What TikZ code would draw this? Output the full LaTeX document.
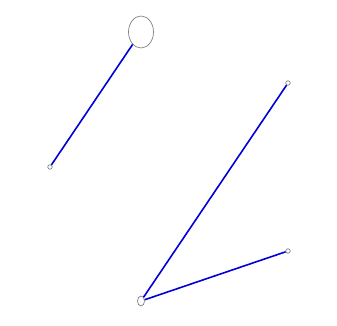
\documentclass[tikz,border=0pt]{standalone}
\usetikzlibrary{shapes.geometric}
\begin{document}
\begin{tikzpicture}[x=1pt,y=-1pt,
  vtx/.style={draw=gray,fill=white,ellipse,inner sep=0pt,line width=0.7pt},
  link/.style={draw=blue!85!black,line width=1.6pt}]
\useasboundingbox (0,0) rectangle (337,326);
\node[vtx,minimum width=25pt,minimum height=32pt] (a) at (141,32) {};
\node[vtx,minimum width=4.5pt,minimum height=4.5pt] (b) at (50,167) {};
\node[vtx,minimum width=4.5pt,minimum height=4.5pt] (c) at (288,83) {};
\node[vtx,minimum width=4.5pt,minimum height=4.5pt] (d) at (288,251) {};
\node[vtx,minimum width=7pt,minimum height=10pt] (e) at (141,301) {};
\draw[link] (a) -- (b);
\draw[link] (e) -- (c);
\draw[link] (e) -- (d);
\end{tikzpicture}
\end{document}
